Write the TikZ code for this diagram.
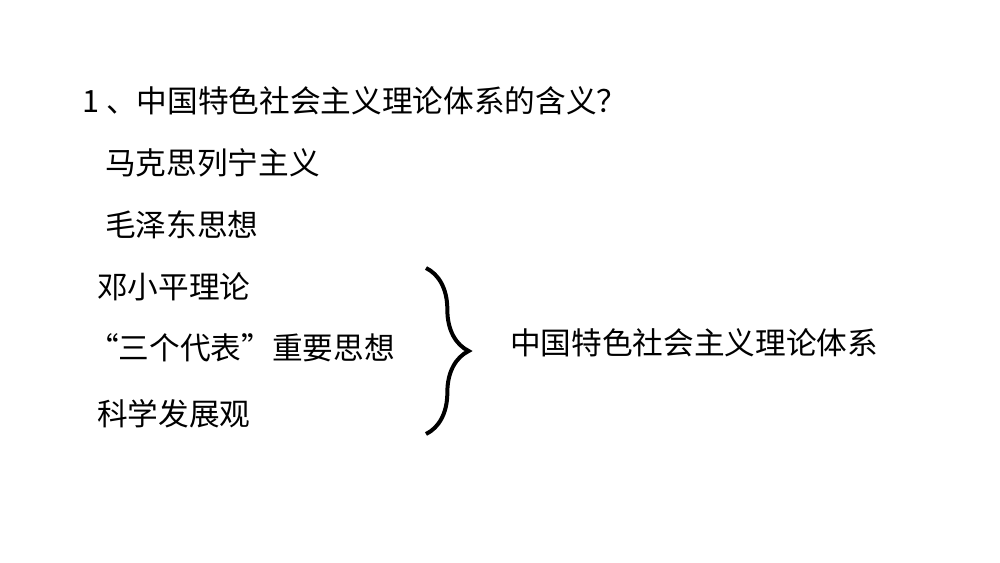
\documentclass[tikz,border=0pt]{standalone}
\usepackage{fontspec}
\setmainfont{Noto Sans CJK SC}
\usetikzlibrary{decorations.pathreplacing}
\begin{document}
\begin{tikzpicture}[x=0.75pt,y=-0.75pt,
  txt/.style={anchor=west,inner sep=0pt,font=\fontsize{23}{27}\selectfont}]
\useasboundingbox (0,0) rectangle (1000,562);
\node[txt] (t) at (82,101) {1 、中国特色社会主义理论体系的含义？};
\node[txt] (a) at (105,163) {马克思列宁主义};
\node[txt] (b) at (105,225) {毛泽东思想};
\node[txt] (c) at (97,287) {邓小平理论};
\node[txt] (d) at (88,348) {“三个代表”重要思想};
\node[txt] (e) at (97,414) {科学发展观};
\coordinate (b1) at (426,268);
\coordinate (b2) at (426,434);
\draw[line width=3pt,decorate,decoration={brace,amplitude=32pt,aspect=0.5}] (b1) -- (b2);
\node[txt] (r) at (510,343) {中国特色社会主义理论体系};
\end{tikzpicture}
\end{document}
